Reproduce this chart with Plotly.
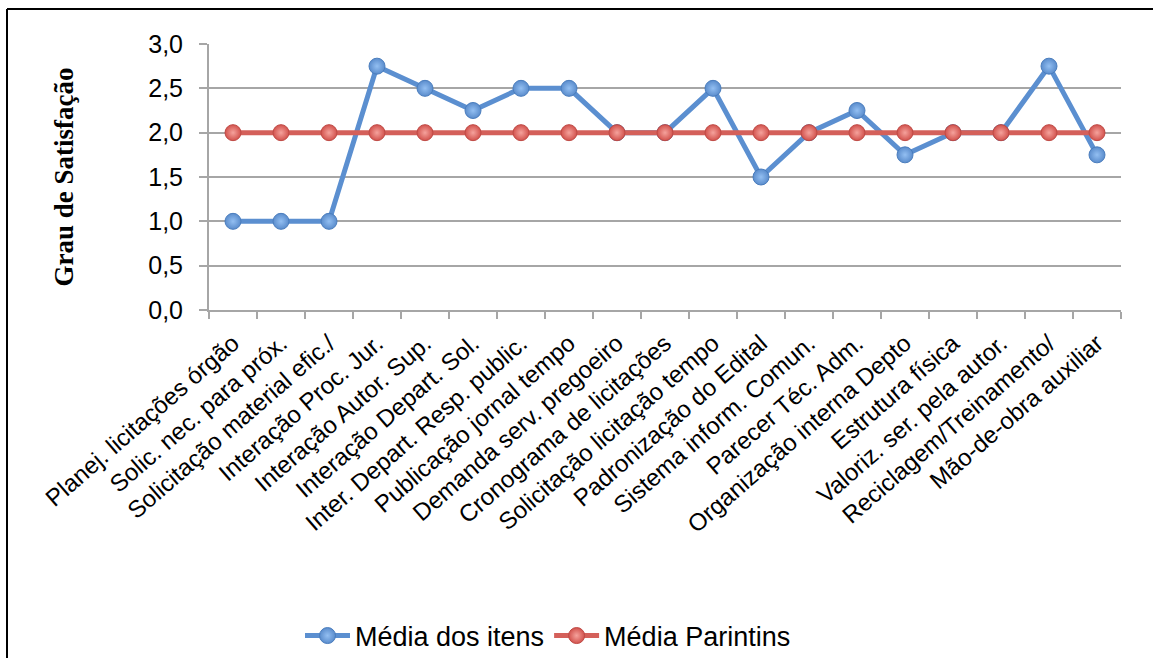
import plotly.graph_objects as go

# Itens avaliados (eixo das categorias)
categorias = [
    "Planej. licitações órgão",
    "Solic. nec. para próx.",
    "Solicitação material efic./",
    "Interação Proc. Jur.",
    "Interação Autor. Sup.",
    "Interação Depart. Sol.",
    "Inter. Depart. Resp. public.",
    "Publicação jornal tempo",
    "Demanda serv. pregoeiro",
    "Cronograma de licitações",
    "Solicitação licitação tempo",
    "Padronização do Edital",
    "Sistema inform. Comun.",
    "Parecer Téc. Adm.",
    "Organização interna Depto",
    "Estrutura física",
    "Valoriz. ser. pela autor.",
    "Reciclagem/Treinamento/",
    "Mão-de-obra auxiliar",
]

# Grau de satisfação por item e média geral
media_itens = [1.0, 1.0, 1.0, 2.75, 2.5, 2.25, 2.5, 2.5, 2.0, 2.0,
               2.5, 1.5, 2.0, 2.25, 1.75, 2.0, 2.0, 2.75, 1.75]
media_parintins = [2.0] * len(categorias)

y_ticks = [0.0, 0.5, 1.0, 1.5, 2.0, 2.5, 3.0]
y_tick_text = ["0,0", "0,5", "1,0", "1,5", "2,0", "2,5", "3,0"]

W, H = 1153, 658
L, R, T, B = 209, 32, 44, 348
pw, ph = W - L - R, H - T - B

fig = go.Figure()

fig.add_trace(go.Scatter(
    x=categorias, y=media_itens, name="Média dos itens",
    mode="lines+markers",
    line=dict(color="#5b8fd0", width=5),
    marker=dict(size=16, color="#5a8ccc",
                gradient=dict(type="radial", color="#93bff2"),
                line=dict(color="#4a7dbd", width=1)),
))
fig.add_trace(go.Scatter(
    x=categorias, y=media_parintins, name="Média Parintins",
    mode="lines+markers",
    line=dict(color="#d4605a", width=5),
    marker=dict(size=16, color="#d2524d",
                gradient=dict(type="radial", color="#f5a29c"),
                line=dict(color="#bf4a45", width=1)),
))

axis_grey = "#a6a6a6"

fig.update_xaxes(
    type="category",
    automargin=False,
    tickangle=-41,
    tickfont=dict(family="Liberation Sans, Arial", size=24, color="#000000"),
    showline=True, linecolor=axis_grey, linewidth=2,
    ticks="outside", ticklen=7, tickwidth=2, tickcolor=axis_grey,
    tickson="boundaries",
    ticklabelstandoff=8,
    showgrid=False,
    range=[-0.5, len(categorias) - 0.5],
)
fig.update_yaxes(
    range=[0, 3.0],
    automargin=False,
    tickvals=y_ticks, ticktext=y_tick_text,
    tickfont=dict(family="Liberation Sans, Arial", size=25, color="#000000"),
    showline=True, linecolor=axis_grey, linewidth=2,
    ticks="outside", ticklen=8, tickwidth=2, tickcolor=axis_grey,
    ticklabelstandoff=11,
    showgrid=True, gridcolor=axis_grey, gridwidth=2,
    zeroline=False,
    title=dict(text="<b>Grau de Satisfação</b>",
               font=dict(family="Liberation Serif, Times New Roman", size=27, color="#000000"),
               standoff=67),
)

# Moldura do gráfico (bordas superior e esquerda visíveis)
frame_x0 = (7 - L) / pw
frame_y1 = 1 + (T - 9) / ph
fig.add_shape(type="line", xref="paper", yref="paper",
              x0=frame_x0, x1=(W + 5 - L) / pw, y0=frame_y1, y1=frame_y1,
              line=dict(color="#000000", width=2))
fig.add_shape(type="line", xref="paper", yref="paper",
              x0=frame_x0, x1=frame_x0, y0=1 - (H + 5 - T) / ph, y1=frame_y1,
              line=dict(color="#000000", width=2))

fig.update_layout(
    width=W, height=H,
    margin=dict(l=L, r=R, t=T, b=B, autoexpand=False),
    paper_bgcolor="#ffffff", plot_bgcolor="#ffffff",
    showlegend=True,
    legend=dict(
        orientation="h",
        xref="container", yref="container",
        x=548 / W, xanchor="center",
        y=(H - 636) / H, yanchor="middle",
        font=dict(family="Liberation Sans, Arial", size=27, color="#000000"),
        itemwidth=45,
    ),
)

fig.write_html("out.html")
